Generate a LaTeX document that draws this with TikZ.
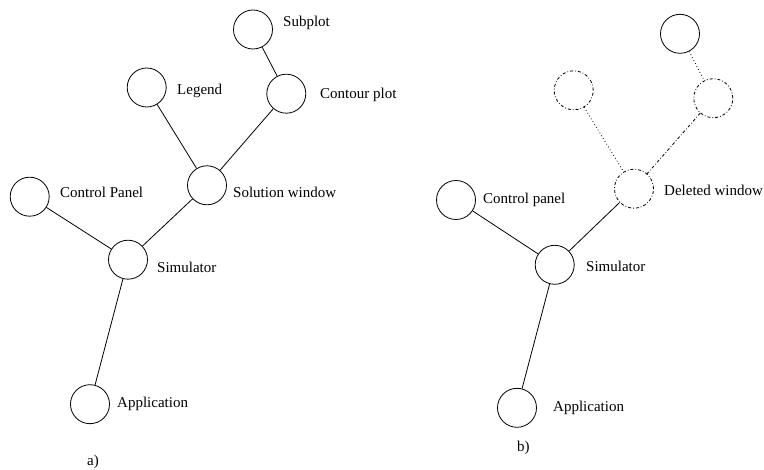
\documentclass[tikz,border=0pt]{standalone}
\usepackage{fontspec}
\setmainfont{Liberation Serif}
\begin{document}
\begin{tikzpicture}[x=1pt,y=-1pt,
  nd/.style={circle,draw,line width=0.8pt,minimum size=39pt,inner sep=0pt},
  gone/.style={nd,dash pattern=on 3pt off 2pt on 0.8pt off 2pt},
  lbl/.style={anchor=base west,inner sep=0pt,font=\fontsize{15}{18}\selectfont},
  edge/.style={line width=0.8pt},
  dotedge/.style={line width=0.8pt,dash pattern=on 0.8pt off 2.5pt},
  dashdotedge/.style={line width=0.8pt,dash pattern=on 3pt off 2pt on 0.8pt off 2pt}]
\useasboundingbox (0,0) rectangle (764,470);
% ---- a)
\node[nd] (aSub) at (253,29.5) {};
\node[nd] (aLeg) at (146.7,87.5) {};
\node[nd] (aCon) at (286.3,93.7) {};
\node[nd] (aSol) at (207,185.3) {};
\node[nd] (aCtl) at (29.7,196.7) {};
\node[nd] (aSim) at (128,259.7) {};
\node[nd] (aApp) at (90,404.2) {};
\draw[edge] (aSub) -- (aCon);
\draw[edge] (aCon) -- (aSol);
\draw[edge] (aLeg) -- (aSol);
\draw[edge] (aSol) -- (aSim);
\draw[edge] (aCtl) -- (aSim);
\draw[edge] (aSim) -- (aApp);
\node[lbl] (laSub) at (283,27) {Subplot};
\node[lbl] (laLeg) at (177,94.3) {Legend};
\node[lbl] (laCon) at (320,98.5) {Contour plot};
\node[lbl] (laSol) at (233,198) {Solution window};
\node[lbl] (laCtl) at (60,198) {Control Panel};
\node[lbl] (laSim) at (157,272.5) {Simulator};
\node[lbl] (laApp) at (117,408) {Application};
\node[lbl] (capA) at (87,466) {a)};
% ---- b)
\node[nd] (bTop) at (680,33.8) {};
\node[gone] (bLeg) at (573.7,90.3) {};
\node[gone] (bCon) at (713.3,98.2) {};
\node[gone] (bDel) at (634,188.7) {};
\node[nd] (bCtl) at (456,200) {};
\node[nd] (bSim) at (554.7,264.8) {};
\node[nd] (bApp) at (517,407.8) {};
\draw[dotedge] (bTop) -- (bCon);
\draw[dotedge] (bLeg) -- (bDel);
\draw[dashdotedge] (bCon) -- (bDel);
\draw[edge] (bDel) -- (bSim);
\draw[edge] (bCtl) -- (bSim);
\draw[edge] (bSim) -- (bApp);
\node[lbl] (lbDel) at (664,196) {Deleted window};
\node[lbl] (lbCtl) at (483,204) {Control panel};
\node[lbl] (lbSim) at (586,271.7) {Simulator};
\node[lbl] (lbApp) at (553,411.7) {Application};
\node[lbl] (capB) at (517,452) {b)};
\end{tikzpicture}
\end{document}
